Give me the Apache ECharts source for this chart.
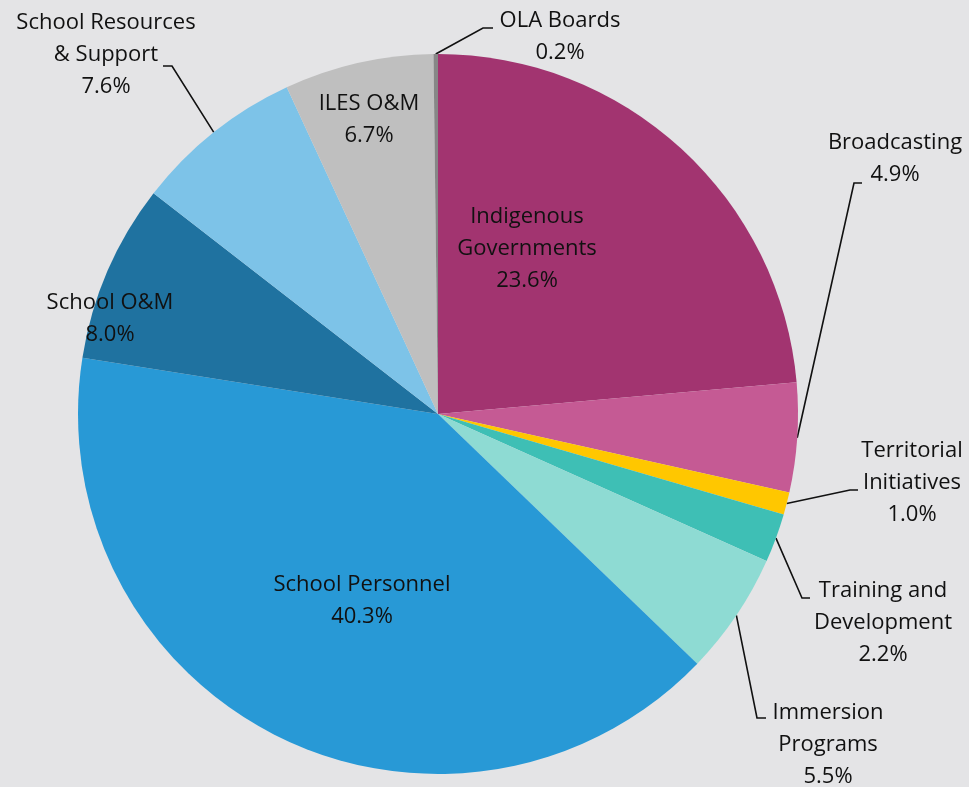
<!DOCTYPE html>
<html>
<head>
<meta charset="utf-8">
<script src="https://cdn.jsdelivr.net/npm/echarts@6/dist/echarts.min.js"></script>
<style>
  html, body { margin: 0; padding: 0; background: #e4e4e6; }
  #chart { width: 969px; height: 787px; }
</style>
</head>
<body>
<div id="chart"></div>
<script>
// slices, clockwise from 12 o'clock
const categories = [
  "Indigenous\nGovernments",
  "Broadcasting",
  "Territorial\nInitiatives",
  "Training and\nDevelopment",
  "Immersion\nPrograms",
  "School Personnel",
  "School O&M",
  "School Resources\n& Support",
  "ILES O&M",
  "OLA Boards",
];
const shares = [23.6, 4.9, 1.0, 2.2, 5.5, 40.3, 8.0, 7.6, 6.7, 0.2];
const colors = ["#a23470", "#c55a94", "#ffc700", "#3ebfb5", "#8edbd3", "#2899d6", "#1f72a0", "#7dc3e8", "#bfbfbf", "#878787"];

// label placement (text block centre) and guide line elbow, per slice
const labelAt = [
  [527, 249], [895, 159], [912, 483], [883, 623], [828, 745],
  [362, 601], [110, 319], [106, 55], [369, 120], [560, 37],
];
const elbows = [
  null, [854, 183], [850, 490], [802, 598], [757, 718],
  null, null, [172, 66], null, [483, 28],
];
const lineEnds = [
  null, [862, 183], [858, 490], [810, 598], [766, 718],
  null, null, [163, 66], null, [493, 28],
];

const center = [438, 414];
const radius = 360;

// anchor on the rim at each slice's middle angle
const total = shares.reduce((a, b) => a + b, 0);
let acc = 0;
const anchors = shares.map((v) => {
  const mid = (acc + v / 2) / total * Math.PI * 2;
  acc += v;
  return [center[0] + radius * Math.sin(mid), center[1] - radius * Math.cos(mid)];
});

const chart = echarts.init(document.getElementById("chart"));

const option = {
  backgroundColor: "#e4e4e6",
  animation: false,
  series: [
    {
      type: "pie",
      center: center,
      radius: radius,
      startAngle: 90,
      clockwise: true,
      avoidLabelOverlap: false,
      data: categories.map((name, i) => ({
        name: name,
        value: shares[i],
        itemStyle: { color: colors[i] },
        labelLine: { show: elbows[i] != null },
      })),
      label: {
        show: true,
        position: "outside",
        formatter: (p) => p.name + "\n" + shares[p.dataIndex].toFixed(1) + "%",
        fontFamily: "Open Sans",
        fontSize: 22,
        lineHeight: 32,
        color: "#111",
        align: "center",
      },
      labelLine: {
        show: true,
        lineStyle: { color: "#111", width: 1.6 },
      },
      labelLayout: (p) => {
        const i = p.dataIndex;
        const out = {
          x: labelAt[i][0],
          y: labelAt[i][1],
          align: "center",
          verticalAlign: "middle",
        };
        if (elbows[i]) out.labelLinePoints = [anchors[i], elbows[i], lineEnds[i]];
        return out;
      },
    },
  ],
};

chart.setOption(option);
</script>
</body>
</html>
